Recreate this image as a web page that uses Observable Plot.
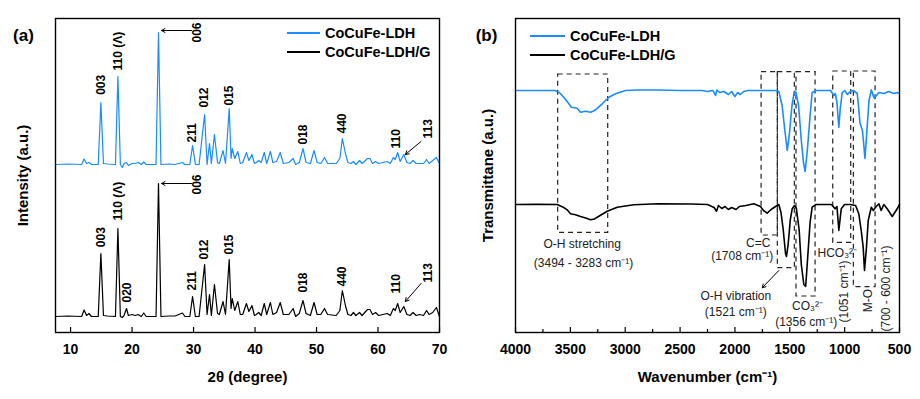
<!DOCTYPE html>
<html>
<head>
<meta charset="utf-8">
<script src="https://cdn.jsdelivr.net/npm/d3@7"></script>
<script src="https://cdn.jsdelivr.net/npm/@observablehq/plot@0.6"></script>
<style>
  html, body { margin: 0; padding: 0; background: #fff; }
  #wrap { display: flex; width: 920px; height: 399px; }
  .panel { position: relative; width: 460px; height: 399px; }
  .lg { position: absolute; display: flex; align-items: center; transform: translateY(-50%);
        font: bold 14.5px "Liberation Sans", Arial, sans-serif; color: #000; white-space: nowrap; }
  .lg .sw { display: inline-block; height: 2px; margin-right: 5px; }
</style>
</head>
<body>
<div id="wrap">
  <div class="panel" id="pa"></div>
  <div class="panel" id="pb"></div>
</div>
<script>
// ---------------- Panel (a): XRD ----------------
const seriesNames = ["CoCuFe-LDH", "CoCuFe-LDH/G"];
const twoTheta = [
  7.6, 9.5, 11.8, 12.2, 12.6, 13.0, 13.4, 14.5, 14.93, 15.35,
  16.0, 17.3, 17.7, 18.1, 18.4, 18.7, 19.1, 19.4, 20.0, 20.5,
  21.0, 21.5, 21.9, 22.3, 23.9, 24.3, 24.7, 26.0, 27.0, 28.2,
  28.6, 29.4, 29.84, 30.3, 30.9, 31.8, 32.2, 32.6, 32.9, 33.4,
  33.9, 34.2, 34.8, 35.2, 35.8, 36.1, 36.3, 36.7, 37.2, 37.6,
  38.0, 38.6, 39.0, 39.5, 39.9, 40.2, 40.6, 41.0, 41.5, 41.9,
  42.5, 42.9, 43.5, 44.1, 44.6, 45.5, 46.2, 46.6, 47.2, 47.8,
  48.3, 49.0, 49.6, 50.1, 50.7, 51.3, 51.8, 53.2, 53.8, 54.2,
  54.7, 55.1, 55.6, 56.0, 56.4, 57.0, 57.4, 58.3, 58.7, 59.1,
  59.6, 60.1, 60.8, 61.5, 62.0, 62.5, 62.8, 63.2, 63.6, 64.2,
  64.7, 65.2, 65.7, 66.2, 66.8, 67.4, 67.9, 68.3, 68.9, 69.5, 70.0
];
const ldhXRD = [
  0, 0.5, 0, 5.5, 1, 2, 0, 0, 62, 1,
  0.5, 0, 88, 0, -3, 1, 2, -1, 1, 1,
  2, 0, 2.5, 0, 0, 132, 0, 0.5, 0, 2,
  0, 0, 19, 0, 0, 50, 0, 21, 1, 30,
  2, 1, 14, 1, 56, 6, 16, 6, 13, 1,
  2, 12, 4, 10, 1, 2, 4, 2, 12, 1,
  13, 2, 3, 12, 1, 2, 6, 0, 2, 16,
  2, 1, 14, 2, 1, 7, 1, 1, 6, 26,
  11, 2, 1, 3, 0, 4, 1, 6, 6, 1,
  3, 1, 2, 3, 1, 7, 5, 12, 3, 10,
  2, 1, 4, 1, 1, 1, 5, 1, 4, 7, 1
];
const ldhGXRD = [
  0, 0.5, 0, 6.5, 1, 3, 0, 0, 63, 1,
  0.5, 0, 88, 0, -1, 1, 8, 1, 2, 1,
  2, 0, 3.5, 0, 0, 133, 0, 0.5, 0.5, 3.5,
  0, 0, 20, 0, 0, 52, 2, 22, 1, 32,
  3, 2, 15, 2, 57, 8, 18, 6, 15, 2,
  2, 13, 5, 11, 1, 2, 4, 1, 13, 2,
  14, 2, 4, 14, 2, 2, 8, 0, 3, 16,
  3, 1, 14, 2, 2, 8, 2, 1, 6, 26,
  11, 2, 1, 4, 1, 4, 1, 7, 7, 2,
  4, 1, 2, 3, 1, 8, 6, 13, 4, 10,
  2, 1, 4, 1, 2, 1, 6, 2, 4, 9, 0
];
const xTicksA = [10, 20, 30, 40, 50, 60, 70];
// peak labels (text, 2θ, level where the rotated label starts, per series)
const peakLabels     = ["003", "110 (Λ)", "020", "006", "211", "012", "015", "018", "440", "110", "113"];
const peakLabelTheta = [14.93, 17.7, 19.2, 30.65, 29.84, 31.8, 35.8, 47.8, 54.2, 63.0, 68.2];
const ldhLabelLevel  = [69.7, 94, null, 122, 22, 57, 59, 20, 31, 16, 26];
const ldhGLabelLevel = [69.3, 96, 14, 122, 26, 57, 62, 24, 30, 23, 34];
// arrows (006 and 113)
const arrowFromTheta = [29.67, 67.0];
const arrowToTheta   = [24.8, 64.45];
const ldhArrowFrom   = [134, 23];
const ldhArrowTo     = [134, 10];
const ldhGArrowFrom  = [133, 33];
const ldhGArrowTo    = [133, 15];

// ---------------- Panel (b): FTIR ----------------
const wnLDH = [
  4000, 3800, 3640, 3600, 3560, 3514, 3490, 3438, 3408, 3362,
  3316, 3290, 3271, 3210, 3149, 3088, 2997, 2900, 2700, 2500,
  2300, 2250, 2200, 2177, 2165, 2140, 2100, 2060, 2030, 2000,
  1975, 1950, 1920, 1880, 1800, 1700, 1620, 1600, 1570, 1545,
  1523, 1505, 1480, 1460, 1445, 1420, 1395, 1375, 1360, 1340,
  1315, 1296, 1260, 1200, 1128, 1098, 1085, 1070, 1053, 1040,
  1022, 1000, 975, 950, 920, 885, 870, 861, 838, 829,
  815, 799, 778, 757, 734, 709, 688, 643, 600, 552,
  521, 500
];
const ftirLDH = [
  0, 0, 0, -2, -6.7, -13.3, -16.7, -17.7, -21.7, -20.7,
  -21.7, -20.5, -19.3, -13.3, -6.7, -3.3, 0, 0.5, 0.5, 0,
  0, -1, 0, -5, 0.5, -2, -1, -4, -1, -6,
  -2, -4, -1, 0, 0, 0, 0, -1, -15, -40,
  -60, -45, -15, -2, -1.5, -15, -50, -72, -81, -60,
  -25, -2, 0, 0, 0, -5, -3, -12, -37, -18,
  -2, 0, -4, -1, 0, -3, -20, -32, -40, -50,
  -68, -43, -10, 0.7, -7, -5, -2, -3, -1, -3,
  -2, -3
];
const wnLDHG = [
  4000, 3800, 3620, 3560, 3529, 3499, 3453, 3408, 3360, 3316,
  3280, 3255, 3164, 3073, 2921, 2700, 2400, 2250, 2190, 2168,
  2150, 2120, 2090, 2060, 2030, 1990, 1960, 1900, 1828, 1790,
  1767, 1740, 1706, 1670, 1630, 1600, 1580, 1560, 1539, 1530,
  1515, 1495, 1478, 1457, 1440, 1415, 1395, 1372, 1355, 1335,
  1315, 1296, 1260, 1200, 1120, 1087, 1070, 1053, 1031, 1000,
  950, 900, 871, 849, 831, 819, 801, 785, 757, 739,
  718, 688, 667, 643, 612, 566, 521, 500
];
const ftirLDHG = [
  0, 0.3, 0, -3, -5.3, -9.3, -10.3, -12, -13.5, -15.3,
  -14.5, -12.7, -6.7, -2.7, -0.3, 0.7, 0.5, 0, -3, -6.7,
  -1, -4, -2, -5, -3, -5, -2, -1, 0.7, -1,
  -2, -6, -8.7, -5, -2, 0, -8, -25, -49, -52,
  -40, -15, -4.3, -1, -4, -25, -60, -80, -82, -50,
  -18, -2.7, 0, 0, 0, -4.3, -2, -26, -4.3, 0,
  0, -1, -9.3, -26, -42.7, -66, -42.7, -16, -2.7, -6,
  -2.7, 0.7, -6, 0, -4.3, -12, -4.3, 0
];
const xTicksB = [4000, 3500, 3000, 2500, 2000, 1500, 1000, 500];
const xMinorB = [3750, 3250, 2750, 2250, 1750, 1250, 750];
// dashed boxes (wavenumber span, levels)
const boxWnHigh = [3611, 1757, 1609, 1439, 1104, 916];
const boxWnLow  = [3155, 1609, 1454, 1265, 940, 718];
const boxTop    = [258, 260.3, 260.3, 260.3, 261, 261];
const boxBottom = [99.7, 97, 64.3, 36, 89.7, 45.3];
// annotations
const annText   = ["O-H stretching", "(3494 - 3283 cm⁻¹)", "C=C", "(1708 cm⁻¹)", "O-H vibration", "(1521 cm⁻¹)",
                   "CO₃²⁻", "(1356 cm⁻¹)", "HCO₃²⁻", "(1051 cm⁻¹)", "M-O", "(700 - 600 cm⁻¹)"];
const annWn     = [3392, 3380, 1788, 1934, 1992, 1992, 1338, 1351, 1067, 1007, 788, 618];
const annLevel  = [88, 69, 89.7, 76.3, 36.3, 20.3, 26, 10.3, 79.3, 41, 32, 44];
const annRotate = [0, 0, 0, 0, 0, 0, 0, 0, 0, -90, -90, -90];
const annArrowFrom = [1600, 62];
const annArrowTo   = [1751, 44.7];

// ---------------- drawing ----------------
const BLUE = "#1a8cff";
const FONT = "'Liberation Sans', Arial, Helvetica, sans-serif";
const OFF_A = [168, 16];   // vertical stacking offsets (a)
const OFF_B = [242, 128];  // vertical stacking offsets (b)
const colors = [BLUE, "#000"];
const TICK_MAJOR = 5, TICK_MINOR = 3;  // inward tick lengths (y units = px here)

const common = {
  width: 460, height: 399,
  marginLeft: 55, marginRight: 21, marginTop: 18, marginBottom: 67,
  style: { fontFamily: FONT, color: "#000", background: "transparent", overflow: "visible" }
};

// (a)
const xrdSeries = [ldhXRD, ldhGXRD];
const xrdRows = xrdSeries.flatMap((arr, s) => twoTheta.map((t, i) => ({ s, t, y: arr[i] + OFF_A[s] })));
const labelLevels = [ldhLabelLevel, ldhGLabelLevel];
const labelRows = labelLevels.flatMap((lv, s) =>
  peakLabels.map((txt, i) => ({ txt, t: peakLabelTheta[i], y: lv[i] == null ? null : lv[i] + OFF_A[s] }))
            .filter(d => d.y != null));
const arrowLevelsFrom = [ldhArrowFrom, ldhGArrowFrom];
const arrowLevelsTo = [ldhArrowTo, ldhGArrowTo];
const arrowRows = [0, 1].flatMap(s => arrowFromTheta.map((t1, i) => ({
  x1: t1, x2: arrowToTheta[i], y1: arrowLevelsFrom[s][i] + OFF_A[s], y2: arrowLevelsTo[s][i] + OFF_A[s]
})));

const plotA = Plot.plot({
  ...common,
  x: { domain: [7.55, 70] },
  y: { domain: [0, 314], axis: null },
  marks: [
    Plot.line(xrdRows.filter(d => d.s === 0), { x: "t", y: "y", stroke: colors[0], strokeWidth: 1.2 }),
    Plot.line(xrdRows.filter(d => d.s === 1), { x: "t", y: "y", stroke: colors[1], strokeWidth: 1.2 }),
    Plot.text(labelRows, { x: "t", y: "y", text: "txt", rotate: -90, textAnchor: "start",
      fontSize: 12, fontWeight: "bold", fill: "#000" }),
    Plot.arrow(arrowRows, { x1: "x1", y1: "y1", x2: "x2", y2: "y2", stroke: "#000", strokeWidth: 1, headLength: 6 }),
    Plot.ruleX(xTicksA, { x: d => d, y1: 0, y2: TICK_MAJOR, stroke: "#000", strokeWidth: 1.2 }),
    Plot.axisX({ ticks: xTicksA, tickSize: 0, tickPadding: 12, fontSize: 14, fontWeight: "bold",
      label: null, tickFormat: d => String(d) }),
    Plot.frame({ stroke: "#000", strokeWidth: 1.4 }),
    Plot.text(["(a)"], { frameAnchor: "top-left", dx: -32, dy: 17, textAnchor: "middle", lineAnchor: "middle",
      fontSize: 17, fontWeight: "bold" }),
    Plot.text(["Intensity (a.u.)"], { frameAnchor: "left", dx: -32, rotate: -90, textAnchor: "middle",
      lineAnchor: "middle", fontSize: 15, fontWeight: "bold" }),
    Plot.text(["2θ (degree)"], { frameAnchor: "bottom", dy: 45, textAnchor: "middle", lineAnchor: "middle",
      fontSize: 15, fontWeight: "bold" })
  ]
});

// (b)
const ftirWn = [wnLDH, wnLDHG];
const ftirVals = [ftirLDH, ftirLDHG];
const ftirRows = [0, 1].flatMap(s => ftirWn[s].map((w, i) => ({ s, w, y: ftirVals[s][i] + OFF_B[s] })));
const boxRows = boxWnHigh.map((w, i) => ({ x1: w, x2: boxWnLow[i], y1: boxBottom[i], y2: boxTop[i] }));
const annRows = annText.map((txt, i) => ({ txt, w: annWn[i], y: annLevel[i], r: annRotate[i] }));

const plotB = Plot.plot({
  ...common,
  x: { domain: [4000, 500] },
  y: { domain: [0, 314], axis: null },
  marks: [
    Plot.rect(boxRows, { x1: "x1", x2: "x2", y1: "y1", y2: "y2", fill: "none", stroke: "#222",
      strokeWidth: 1.2, strokeDasharray: "5,4" }),
    Plot.line(ftirRows.filter(d => d.s === 0), { x: "w", y: "y", stroke: colors[0], strokeWidth: 1.6 }),
    Plot.line(ftirRows.filter(d => d.s === 1), { x: "w", y: "y", stroke: colors[1], strokeWidth: 1.6 }),
    Plot.text(annRows.filter(d => d.r === 0), { x: "w", y: "y", text: "txt", fontSize: 12, fill: "#222" }),
    Plot.text(annRows.filter(d => d.r !== 0), { x: "w", y: "y", text: "txt", rotate: -90, fontSize: 12, fill: "#222" }),
    Plot.arrow([{ x1: annArrowFrom[0], y1: annArrowFrom[1], x2: annArrowTo[0], y2: annArrowTo[1] }],
      { x1: "x1", y1: "y1", x2: "x2", y2: "y2", stroke: "#000", strokeWidth: 1, headLength: 6 }),
    Plot.ruleX(xTicksB, { x: d => d, y1: 0, y2: TICK_MAJOR, stroke: "#000", strokeWidth: 1.2 }),
    Plot.ruleX(xMinorB, { x: d => d, y1: 0, y2: TICK_MINOR, stroke: "#000", strokeWidth: 1.2 }),
    Plot.axisX({ ticks: xTicksB, tickSize: 0, tickPadding: 12, fontSize: 14, fontWeight: "bold",
      label: null, tickFormat: d => String(d) }),
    Plot.frame({ stroke: "#000", strokeWidth: 1.4 }),
    Plot.text(["(b)"], { frameAnchor: "top-left", dx: -29, dy: 17, textAnchor: "middle", lineAnchor: "middle",
      fontSize: 17, fontWeight: "bold" }),
    Plot.text(["Transmittane (a.u.)"], { frameAnchor: "left", dx: -27, rotate: -90, textAnchor: "middle",
      lineAnchor: "middle", fontSize: 15, fontWeight: "bold" }),
    Plot.text(["Wavenumber (cm⁻¹)"], { frameAnchor: "bottom", dy: 45, textAnchor: "middle", lineAnchor: "middle",
      fontSize: 15, fontWeight: "bold" })
  ]
});

document.getElementById("pa").appendChild(plotA);
document.getElementById("pb").appendChild(plotB);

// legends (HTML overlays inside each panel)
function legend(panelId, swLeft, swWidth, tops) {
  const panel = document.getElementById(panelId);
  seriesNames.forEach((name, i) => {
    const row = document.createElement("div");
    row.className = "lg";
    row.style.left = swLeft + "px";
    row.style.top = tops[i] + "px";
    const sw = document.createElement("span");
    sw.className = "sw";
    sw.style.width = swWidth + "px";
    sw.style.background = colors[i];
    row.appendChild(sw);
    row.appendChild(document.createTextNode(name));
    panel.appendChild(row);
  });
}
legend("pa", 287, 33, [33, 52]);
legend("pb", 70, 35, [36, 55]);
</script>
</body>
</html>
